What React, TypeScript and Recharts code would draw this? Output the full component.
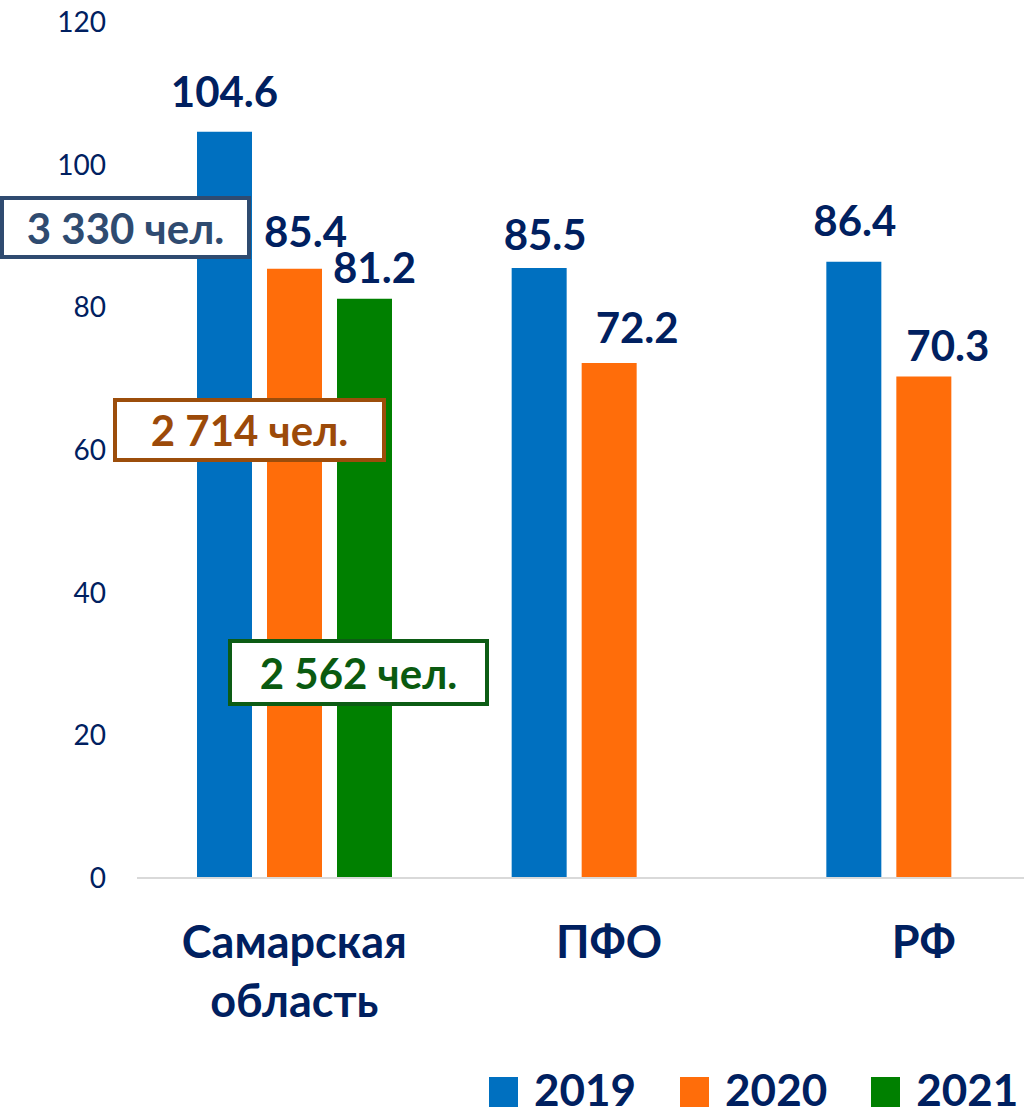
import { Bar, BarChart, LabelList, Legend, XAxis, YAxis } from "recharts";

const regions = ["Самарская область", "ПФО", "РФ"];
const values2019 = [104.6, 85.5, 86.4];
const values2020 = [85.4, 72.2, 70.3];
const values2021: (number | null)[] = [81.2, null, null];
const years = ["2019", "2020", "2021"];
const yTicks = [0, 20, 40, 60, 80, 100, 120];
const notes = ["3 330 чел.", "2 714 чел.", "2 562 чел."];

const NAVY = "#002060";
const FONT = "Lato, 'Open Sans', sans-serif";
const COLORS = ["#0070C0", "#FF6D0A", "#008000"];
const KEYS = ["y2019", "y2020", "y2021"];

const data = regions.map((region, i) => ({
  region,
  y2019: values2019[i],
  y2020: values2020[i],
  y2021: values2021[i],
}));

// small nudges so the labels sit where the original slide put them
const labelNudge: Record<string, [number, number][]> = {
  y2019: [[0, -25], [6, -18], [1, -26]],
  y2020: [[11, -22], [28, -20], [24, -16]],
  y2021: [[10, -16]],
};

// annotation boxes (people counts for Самарская область by year)
const noteBoxes = [
  { left: 0, top: 196, width: 251, height: 63, border: "#2F4B70", color: "#2F4B70" },
  { left: 113, top: 398, width: 273, height: 64, border: "#9C4D0B", color: "#9C4A09" },
  { left: 228, top: 639, width: 261, height: 67, border: "#0C5C14", color: "#0A5A10" },
];

function makeLabel(key: string) {
  return (props: any) => {
    const { x, y, width, value, index } = props;
    if (value == null) return null;
    const [dx, dy] = labelNudge[key]?.[index] ?? [0, -20];
    return (
      <text
        x={Number(x) + Number(width) / 2 + dx}
        y={Number(y) + dy}
        textAnchor="middle"
        fontFamily={FONT}
        fontWeight={700}
        fontSize={42}
        fill={NAVY}
      >
        {String(value)}
      </text>
    );
  };
}

function RegionTick(props: any) {
  const { x, y, payload } = props;
  const lines = String(payload.value).split(" ");
  return (
    <g>
      {lines.map((line, i) => (
        <text
          key={line}
          x={x}
          y={y + 72 + i * 59}
          textAnchor="middle"
          fontFamily={FONT}
          fontWeight={700}
          fontSize={45}
          fill={NAVY}
        >
          {line}
        </text>
      ))}
    </g>
  );
}

function YearLegend() {
  return (
    <div style={{ display: "flex", alignItems: "center", fontFamily: FONT }}>
      {years.map((year, i) => (
        <div key={year} style={{ display: "flex", alignItems: "center", marginRight: 44 }}>
          <div
            style={{ width: 29, height: 30, background: COLORS[i], marginRight: 16, marginTop: 6 }}
          />
          <span style={{ fontSize: 44, fontWeight: 700, color: NAVY, lineHeight: "36px" }}>
            {year}
          </span>
        </div>
      ))}
    </div>
  );
}

export default function App() {
  return (
    <div
      style={{
        position: "absolute",
        left: 0,
        top: 0,
        width: 1024,
        height: 1119,
        overflow: "hidden",
        background: "#ffffff",
      }}
    >
      <BarChart
        width={1081}
        height={1119}
        data={data}
        margin={{ top: 22, right: 0, bottom: 0, left: 0 }}
        barSize={55}
        barGap={15}
      >
        <XAxis
          dataKey="region"
          height={241}
          axisLine={{ stroke: "#D9D9D9", strokeWidth: 2 }}
          tickLine={false}
          interval={0}
          tick={<RegionTick />}
        />
        <YAxis
          width={137}
          domain={[0, 120]}
          ticks={yTicks}
          axisLine={false}
          tickLine={false}
          tickMargin={25}
          tick={{ fontSize: 28, fill: NAVY, fontFamily: FONT }}
        />
        <Legend
          layout="horizontal"
          verticalAlign="middle"
          align="center"
          wrapperStyle={{ left: 489, top: 1071, width: "auto" }}
          content={<YearLegend />}
        />
        {KEYS.map((key, i) => (
          <Bar
            key={key}
            dataKey={key}
            name={years[i]}
            fill={COLORS[i]}
            isAnimationActive={false}
          >
            <LabelList dataKey={key} content={makeLabel(key)} />
          </Bar>
        ))}
      </BarChart>
      {noteBoxes.map((box, i) => (
        <div
          key={notes[i]}
          style={{
            position: "absolute",
            left: box.left,
            top: box.top,
            width: box.width,
            height: box.height,
            boxSizing: "border-box",
            border: `4px solid ${box.border}`,
            background: "#ffffff",
            color: box.color,
            fontFamily: FONT,
            fontWeight: 700,
            fontSize: 42,
            display: "flex",
            alignItems: "center",
            justifyContent: "center",
            zIndex: 2,
          }}
        >
          {notes[i]}
        </div>
      ))}
    </div>
  );
}
